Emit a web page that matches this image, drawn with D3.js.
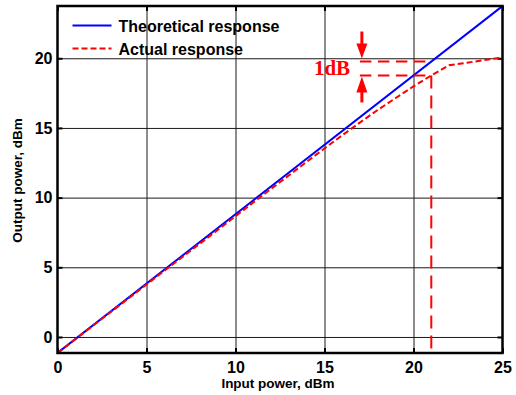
<!DOCTYPE html>
<html>
<head>
<meta charset="utf-8">
<script src="https://cdn.jsdelivr.net/npm/d3@7"></script>
<style>
  html, body { margin: 0; padding: 0; background: #fff; }
  svg { display: block; }
  .tick text { font-family: "Liberation Sans", Arial, sans-serif; font-weight: bold; font-size: 16px; fill: #000; }
</style>
</head>
<body>
<svg id="chart" width="516" height="395"></svg>
<script>
// Input power (dBm) samples
const inputPower = [0, 2, 4, 6, 8, 10, 12, 14, 15, 16, 17, 18, 19, 20, 21, 22, 23, 24, 25];
// Measured amplifier output (dBm)
const actualOutput = [-1.15, 0.82, 2.78, 4.75, 6.7, 8.67, 10.63, 12.57, 13.53, 14.48, 15.4, 16.3, 17.15, 17.98, 18.77, 19.5, 19.68, 19.87, 20.05];
// Ideal linear response (dBm), end points
const theoreticalInput = [0, 25];
const theoreticalOutput = [-1.15, 23.75];

const xTicks = [0, 5, 10, 15, 20, 25];
const yTicks = [0, 5, 10, 15, 20];
const legendLabels = ["Theoretical response", "Actual response"];

// 1 dB compression point annotation
const p1dBInput = 21;
const compressionDb = 1;
const arrowInput = 17.1;

const svg = d3.select("#chart");
const plotLeft = 57.5, plotRight = 502.5, plotTop = 6, plotBottom = 353;

const x = d3.scaleLinear().domain([0, 25]).range([plotLeft, plotRight]);
const y = d3.scaleLinear().domain([-1.15, 23.75]).range([plotBottom, plotTop]);

const theoretical = d3.scaleLinear().domain(theoreticalInput).range(theoreticalOutput);

svg.append("defs").append("clipPath").attr("id", "plot-clip")
  .append("rect").attr("x", plotLeft).attr("y", plotTop)
  .attr("width", plotRight - plotLeft).attr("height", plotBottom - plotTop);

// Grid lines
const gridX = svg.append("g").attr("transform", `translate(0,${plotBottom})`)
  .call(d3.axisBottom(x).tickValues(xTicks.filter(v => v > 0 && v < 25)).tickSize(-(plotBottom - plotTop)).tickFormat(""));
gridX.select(".domain").remove();
gridX.selectAll("line").attr("stroke", "#1a1a1a").attr("stroke-width", 1);

const gridY = svg.append("g").attr("transform", `translate(${plotLeft},0)`)
  .call(d3.axisLeft(y).tickValues(yTicks).tickSize(-(plotRight - plotLeft)).tickFormat(""));
gridY.select(".domain").remove();
gridY.selectAll("line").attr("stroke", "#1a1a1a").attr("stroke-width", 1);

// Axes with inward ticks
const xAxis = svg.append("g").attr("transform", `translate(0,${plotBottom})`)
  .call(d3.axisBottom(x).tickValues(xTicks).tickSize(-5).tickPadding(9).tickFormat(d3.format("d")));
const xAxisTop = svg.append("g").attr("transform", `translate(0,${plotTop})`)
  .call(d3.axisTop(x).tickValues(xTicks).tickSize(-5).tickFormat(""));
const yAxis = svg.append("g").attr("transform", `translate(${plotLeft},0)`)
  .call(d3.axisLeft(y).tickValues(yTicks).tickSize(-5).tickPadding(5).tickFormat(d3.format("d")));
const yAxisRight = svg.append("g").attr("transform", `translate(${plotRight},0)`)
  .call(d3.axisRight(y).tickValues(yTicks).tickSize(-5).tickFormat(""));
[xAxis, xAxisTop, yAxis, yAxisRight].forEach(g => {
  g.select(".domain").remove();
  g.selectAll("line").attr("stroke", "#000").attr("stroke-width", 2);
});

const plot = svg.append("g").attr("clip-path", "url(#plot-clip)");

// Theoretical (linear) response
const line = d3.line().x(d => x(d[0])).y(d => y(d[1]));
plot.append("path")
  .datum(theoreticalInput.map((v, i) => [v, theoreticalOutput[i]]))
  .attr("d", line)
  .attr("fill", "none").attr("stroke", "#0000ff").attr("stroke-width", 2);

// Actual response
plot.append("path")
  .datum(inputPower.map((v, i) => [v, actualOutput[i]]))
  .attr("d", line)
  .attr("fill", "none").attr("stroke", "#ff0000").attr("stroke-width", 2)
  .attr("stroke-dasharray", "6,3");

// Compression annotation
const upperLevel = theoretical(p1dBInput);
const lowerLevel = upperLevel - compressionDb;
const red = "#ff0000";
const annot = svg.append("g");
annot.append("line")
  .attr("x1", x(arrowInput) - 2).attr("x2", x(p1dBInput))
  .attr("y1", y(upperLevel)).attr("y2", y(upperLevel))
  .attr("stroke", red).attr("stroke-width", 2).attr("stroke-dasharray", "11.5,6.5");
annot.append("line")
  .attr("x1", x(arrowInput) - 2).attr("x2", x(p1dBInput))
  .attr("y1", y(lowerLevel)).attr("y2", y(lowerLevel))
  .attr("stroke", red).attr("stroke-width", 2).attr("stroke-dasharray", "11.5,6.5");
annot.append("line")
  .attr("x1", x(p1dBInput)).attr("x2", x(p1dBInput))
  .attr("y1", y(lowerLevel)).attr("y2", plotBottom)
  .attr("stroke", red).attr("stroke-width", 2).attr("stroke-dasharray", "13,7");

// Arrows pointing at both levels
const ax = x(arrowInput);
const uy = y(upperLevel), ly = y(lowerLevel);
annot.append("line").attr("x1", ax).attr("x2", ax).attr("y1", uy - 30).attr("y2", uy - 15)
  .attr("stroke", red).attr("stroke-width", 3);
annot.append("path")
  .attr("d", `M${ax - 5.5},${uy - 18} L${ax + 5.5},${uy - 18} L${ax},${uy - 3} Z`).attr("fill", red);
annot.append("line").attr("x1", ax).attr("x2", ax).attr("y1", ly + 14).attr("y2", ly + 27)
  .attr("stroke", red).attr("stroke-width", 3);
annot.append("path")
  .attr("d", `M${ax - 5.5},${ly + 17} L${ax + 5.5},${ly + 17} L${ax},${ly + 1} Z`).attr("fill", red);
annot.append("text")
  .attr("x", ax - 48).attr("y", (uy + ly) / 2 + 7)
  .attr("font-family", "'Liberation Serif', 'Times New Roman', serif")
  .attr("font-weight", "bold").attr("font-size", 21).attr("fill", red)
  .text(compressionDb + "dB");

// Frame
svg.append("rect")
  .attr("x", plotLeft).attr("y", plotTop)
  .attr("width", plotRight - plotLeft).attr("height", plotBottom - plotTop)
  .attr("fill", "none").attr("stroke", "#000").attr("stroke-width", 2.5);

// Legend
const legend = svg.append("g").attr("transform", "translate(72.5,0)");
const legendStyles = [
  { color: "#0000ff", dash: null, y: 25.5 },
  { color: "#ff0000", dash: "6,3", y: 48.5 }
];
legendLabels.forEach((label, i) => {
  const s = legendStyles[i];
  legend.append("line").attr("x1", 0).attr("x2", 39).attr("y1", s.y).attr("y2", s.y)
    .attr("stroke", s.color).attr("stroke-width", 2)
    .attr("stroke-dasharray", s.dash);
  legend.append("text").attr("x", 46).attr("y", s.y + 6.5)
    .attr("font-family", "'Liberation Sans', Arial, sans-serif")
    .attr("font-weight", "bold").attr("font-size", 16).attr("fill", "#000")
    .text(label);
});

// Axis titles
svg.append("text")
  .attr("x", (plotLeft + plotRight) / 2 - 2).attr("y", 388)
  .attr("text-anchor", "middle")
  .attr("font-family", "'Liberation Sans', Arial, sans-serif")
  .attr("font-weight", "bold").attr("font-size", 13.5)
  .text("Input power, dBm");
svg.append("text")
  .attr("transform", `translate(22,${(plotTop + plotBottom) / 2 + 1}) rotate(-90)`)
  .attr("text-anchor", "middle")
  .attr("font-family", "'Liberation Sans', Arial, sans-serif")
  .attr("font-weight", "bold").attr("font-size", 13.5)
  .text("Output power, dBm");
</script>
</body>
</html>
